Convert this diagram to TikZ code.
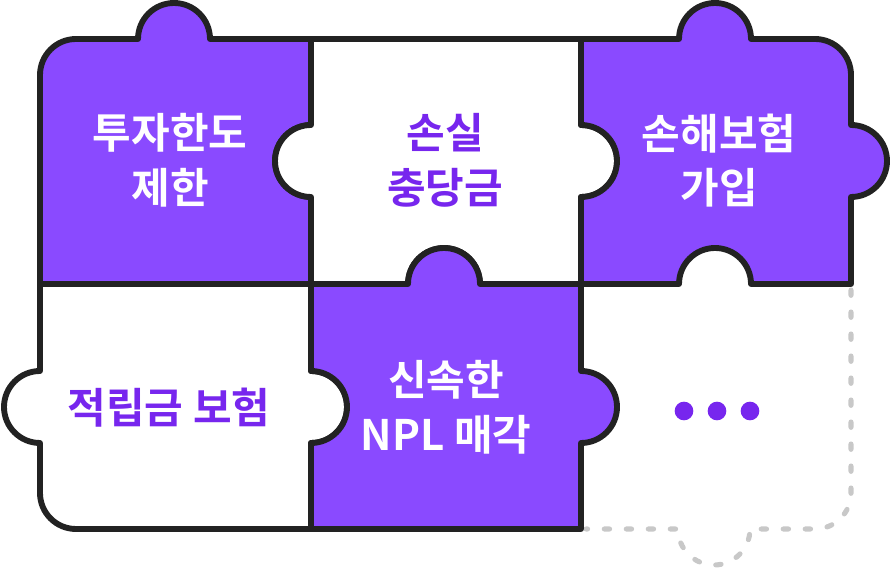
\documentclass[tikz,border=0pt]{standalone}
\usepackage{fontspec}
\newfontfamily\kr{Noto Sans CJK KR}[UprightFont={* Bold}]
\definecolor{pfill}{HTML}{8A4AFF}
\definecolor{ptext}{HTML}{7726EE}
\definecolor{outl}{HTML}{222222}
\definecolor{dgray}{HTML}{C8C8C8}
\tikzset{
  piece/.style={draw=outl, line width=4.4pt, line join=round},
  purplepiece/.style={piece, fill=pfill},
  whitepiece/.style={piece, fill=white},
  dashedge/.style={draw=dgray, line width=3.8pt, line cap=round, dash pattern=on 4pt off 12.5pt},
  wlabel/.style={font=\kr\fontsize{31.5}{41}\selectfont, text=white, align=center, inner sep=0pt},
  plabel/.style={font=\kr\fontsize{31.5}{41}\selectfont, text=ptext, align=center, inner sep=0pt},
  dotmark/.style={circle, fill=ptext, minimum size=14pt, inner sep=0pt},
}
\begin{document}
\begin{tikzpicture}[x=0.75pt, y=0.75pt]
\useasboundingbox (0,0) rectangle (891,570);
% dashed piece (bottom right)
\draw[dashedge] (851,280) -- (851,77) arc[start angle=0, end angle=-90, radius=36]
  -- (750,41) arc[start angle=0, end angle=-180, radius=36] -- (586,41);
% top-left
\path[purplepiece] (40,286) -- (40,495) arc[start angle=180, end angle=90, radius=36]
  -- (138,531) arc[start angle=180, end angle=0, radius=36] -- (311,531)
  -- (311,445) arc[start angle=90, end angle=270, radius=36] -- (311,286) -- cycle;
% top-middle
\path[whitepiece] (311,531) -- (581,531) -- (581,445) arc[start angle=90, end angle=-90, radius=36]
  -- (581,286) -- (480,286) arc[start angle=0, end angle=180, radius=36] -- (311,286)
  -- (311,373) arc[start angle=-90, end angle=-270, radius=36] -- cycle;
% top-right
\path[purplepiece] (581,531) -- (679,531) arc[start angle=180, end angle=0, radius=36]
  -- (815,531) arc[start angle=90, end angle=0, radius=36]
  -- (851,445) arc[start angle=90, end angle=-90, radius=36] -- (851,286)
  -- (751,286) arc[start angle=0, end angle=180, radius=36] -- (581,286)
  -- (581,373) arc[start angle=-90, end angle=90, radius=36] -- cycle;
% bottom-left
\path[whitepiece] (40,286) -- (311,286) -- (311,199) arc[start angle=90, end angle=-90, radius=36]
  -- (311,41) -- (76,41) arc[start angle=270, end angle=180, radius=36]
  -- (40,127) arc[start angle=-90, end angle=-270, radius=36] -- cycle;
% bottom-middle
\path[purplepiece] (311,286) -- (408,286) arc[start angle=180, end angle=0, radius=36] -- (581,286)
  -- (581,199) arc[start angle=90, end angle=-90, radius=36] -- (581,41) -- (311,41)
  -- (311,127) arc[start angle=-90, end angle=90, radius=36] -- cycle;
% labels
\node[wlabel] (t1) at (170,409.5) {투자한도\\제한};
\node[plabel] (t2) at (445,409.5) {손실\\충당금};
\node[wlabel] (t3) at (719,409.5) {손해보험\\가입};
\node[plabel] (t4) at (169,162) {적립금 보험};
\node[wlabel] (t5) at (446,162.5) {신속한\\NPL 매각};
\node[dotmark] (d1) at (684,159) {};
\node[dotmark] (d2) at (717,159) {};
\node[dotmark] (d3) at (750,159) {};
\end{tikzpicture}
\end{document}
